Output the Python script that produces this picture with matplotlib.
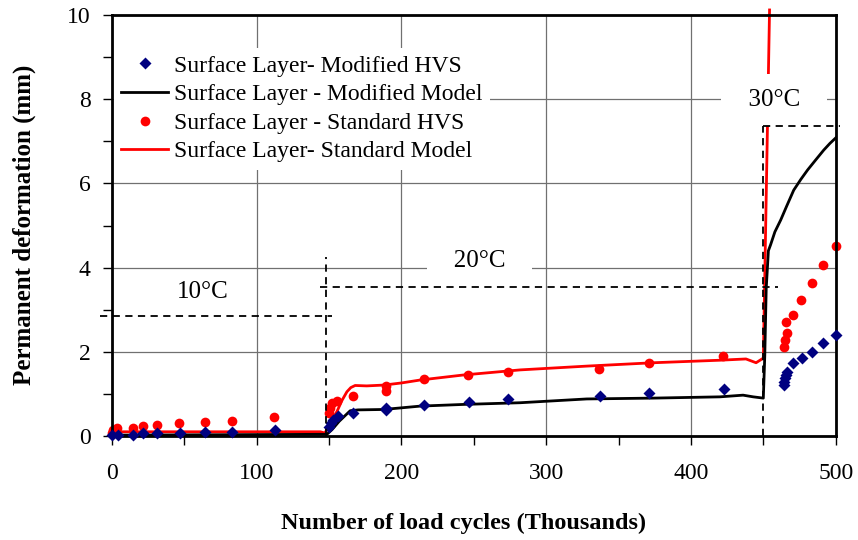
import numpy as np
import matplotlib
matplotlib.use('Agg')
import matplotlib.pyplot as plt
from matplotlib.ticker import MultipleLocator

plt.rcParams['font.family'] = ['Liberation Serif', 'DejaVu Serif']

# HVS measurements (thousands of cycles, mm)
mod_hvs_x = [0, 4.5, 14.7, 21.7, 31.3, 47, 64.3, 82.8, 112.7, 150, 151, 153, 156, 166.4,
             189.5, 189.5, 215.5, 246.4, 273.6, 337.5, 371, 422.8,
             464.2, 464.2, 464.7, 465.4, 466.5, 470.7, 476.5, 483.4, 491.5, 500]
mod_hvs_y = [0.02, 0.02, 0.02, 0.06, 0.06, 0.08, 0.1, 0.1, 0.14, 0.22, 0.3, 0.38, 0.47, 0.54,
             0.62, 0.67, 0.74, 0.81, 0.89, 0.96, 1.03, 1.11,
             1.21, 1.29, 1.37, 1.45, 1.53, 1.73, 1.85, 1.99, 2.2, 2.4]

std_hvs_x = [0, 1, 3.2, 14.2, 21.2, 31.3, 46.5, 64.3, 82.8, 112, 150, 150.8, 152, 155.7,
             166.2, 189, 189, 215.3, 246, 273.4, 336.8, 370.9, 422.1,
             464.3, 465, 466.1, 465.4, 470.4, 475.8, 483.8, 491.2, 500]
std_hvs_y = [0.06, 0.14, 0.2, 0.18, 0.24, 0.26, 0.3, 0.33, 0.36, 0.44, 0.55, 0.67, 0.78, 0.84,
             0.94, 1.07, 1.19, 1.35, 1.44, 1.53, 1.59, 1.73, 1.91,
             2.12, 2.28, 2.44, 2.71, 2.87, 3.23, 3.63, 4.05, 4.51]

# model curves
mod_model_x = [0, 148.5, 152, 157, 164.6, 170, 187.6, 213, 243, 282, 328, 374, 420, 436, 443,
               450, 451, 452, 453.5, 455, 458, 462, 466, 471, 476, 480.6, 486, 491.7, 496, 500]
mod_model_y = [0.02, 0.04, 0.15, 0.35, 0.6, 0.62, 0.63, 0.71, 0.75, 0.79, 0.88, 0.9, 0.93, 0.97, 0.93,
               0.9, 1.9, 3.5, 4.4, 4.54, 4.85, 5.13, 5.45, 5.84, 6.1, 6.32, 6.55, 6.79, 6.95, 7.08]

std_model_x = [0, 144, 147, 149.4, 152, 155.4, 159, 162.3, 165, 168, 176, 188, 200, 213, 243,
               282, 328, 374, 420, 438, 445, 450, 454.3]
std_model_y = [0.1, 0.1, 0.07, 0.2, 0.38, 0.58, 0.85, 1.05, 1.15, 1.2, 1.19, 1.21, 1.26, 1.33, 1.45,
               1.57, 1.66, 1.74, 1.8, 1.83, 1.74, 1.85, 10.12]

# temperature stages
temp_labels = ['10°C', '20°C', '30°C']
temp_label_x = [63, 254, 457.4]
temp_label_y = [3.42, 4.16, 7.99]
stage_level = [2.86, 3.54, 7.36]
stage_start = [-8, 144, 450]
stage_end = [152, 460, 503]
sep_x = [148, 450]
sep_top = [4.25, 7.36]

fig = plt.figure(figsize=(8.58, 5.40), dpi=100)
ax = fig.add_axes([0.1305, 0.1926, 0.8435, 0.7796])

ax.plot(std_model_x, std_model_y, color='#ff0000', lw=2.0, zorder=2, clip_on=False,
        label='Surface Layer- Standard Model')
ax.plot(mod_model_x, mod_model_y, color='black', lw=2.0, zorder=2.1,
        label='Surface Layer - Modified Model')
ax.plot(std_hvs_x, std_hvs_y, 'o', color='#ff0000', ms=7, mec='none', zorder=2.5, clip_on=False,
        label='Surface Layer - Standard HVS')
ax.plot(mod_hvs_x, mod_hvs_y, 'D', color='#000080', ms=6, mec='none', zorder=2.6, clip_on=False,
        label='Surface Layer- Modified HVS')

# dashed stage boundaries
for lvl, x0, x1 in zip(stage_level, stage_start, stage_end):
    ax.plot([x0, x1], [lvl, lvl], color='black', lw=1.3, dashes=(4, 3), zorder=4, clip_on=False)
for xs, top in zip(sep_x, sep_top):
    ax.plot([xs, xs], [0, top], color='black', lw=1.3, dashes=(4, 3), zorder=4, clip_on=False)

ax.text(temp_label_x[0], temp_label_y[0], temp_labels[0], fontsize=18, ha='center', va='center')
ax.text(temp_label_x[1], temp_label_y[1], '   ' + temp_labels[1] + '   ', fontsize=18,
        ha='center', va='center', zorder=3,
        bbox=dict(boxstyle='square,pad=0.3', fc='white', ec='none'))
ax.text(temp_label_x[2], temp_label_y[2], '  ' + temp_labels[2] + '  ', fontsize=18,
        ha='center', va='center', zorder=3,
        bbox=dict(boxstyle='square,pad=0.6', fc='white', ec='none'))

ax.set_xlim(0, 500)
ax.set_ylim(0, 10)
ax.xaxis.set_major_locator(MultipleLocator(100))
ax.xaxis.set_minor_locator(MultipleLocator(50))
ax.yaxis.set_major_locator(MultipleLocator(2))
ax.yaxis.set_minor_locator(MultipleLocator(1))
ax.set_axisbelow(True)
ax.grid(True, which='major', color='#707070', lw=0.9)
ax.tick_params(which='both', direction='out', length=6.5, width=1, top=False, right=False)
ax.tick_params(axis='x', labelsize=17, pad=13)
ax.tick_params(axis='y', labelsize=17, pad=9)
for s in ax.spines.values():
    s.set_linewidth(2)

ax.set_xlabel('Number of load cycles (Thousands)', fontsize=17.5, fontweight='bold')
ax.set_ylabel('Permanent deformation (mm)', fontsize=18, fontweight='bold')
ax.xaxis.set_label_coords(0.486, -0.183)
ax.yaxis.set_label_coords(-0.105, 0.501)

h, l = ax.get_legend_handles_labels()
order = [3, 1, 2, 0]
leg = ax.legend([h[i] for i in order], [l[i] for i in order], loc='upper left',
                bbox_to_anchor=(0.003, 0.9216), borderaxespad=0, borderpad=0.3,
                fontsize=17, frameon=True, fancybox=False, framealpha=1,
                handlelength=2.0, handletextpad=0.25, labelspacing=0.3, numpoints=1)
leg.get_frame().set_edgecolor('none')
leg.set_zorder(5)

fig.savefig('out.png', dpi=100)
